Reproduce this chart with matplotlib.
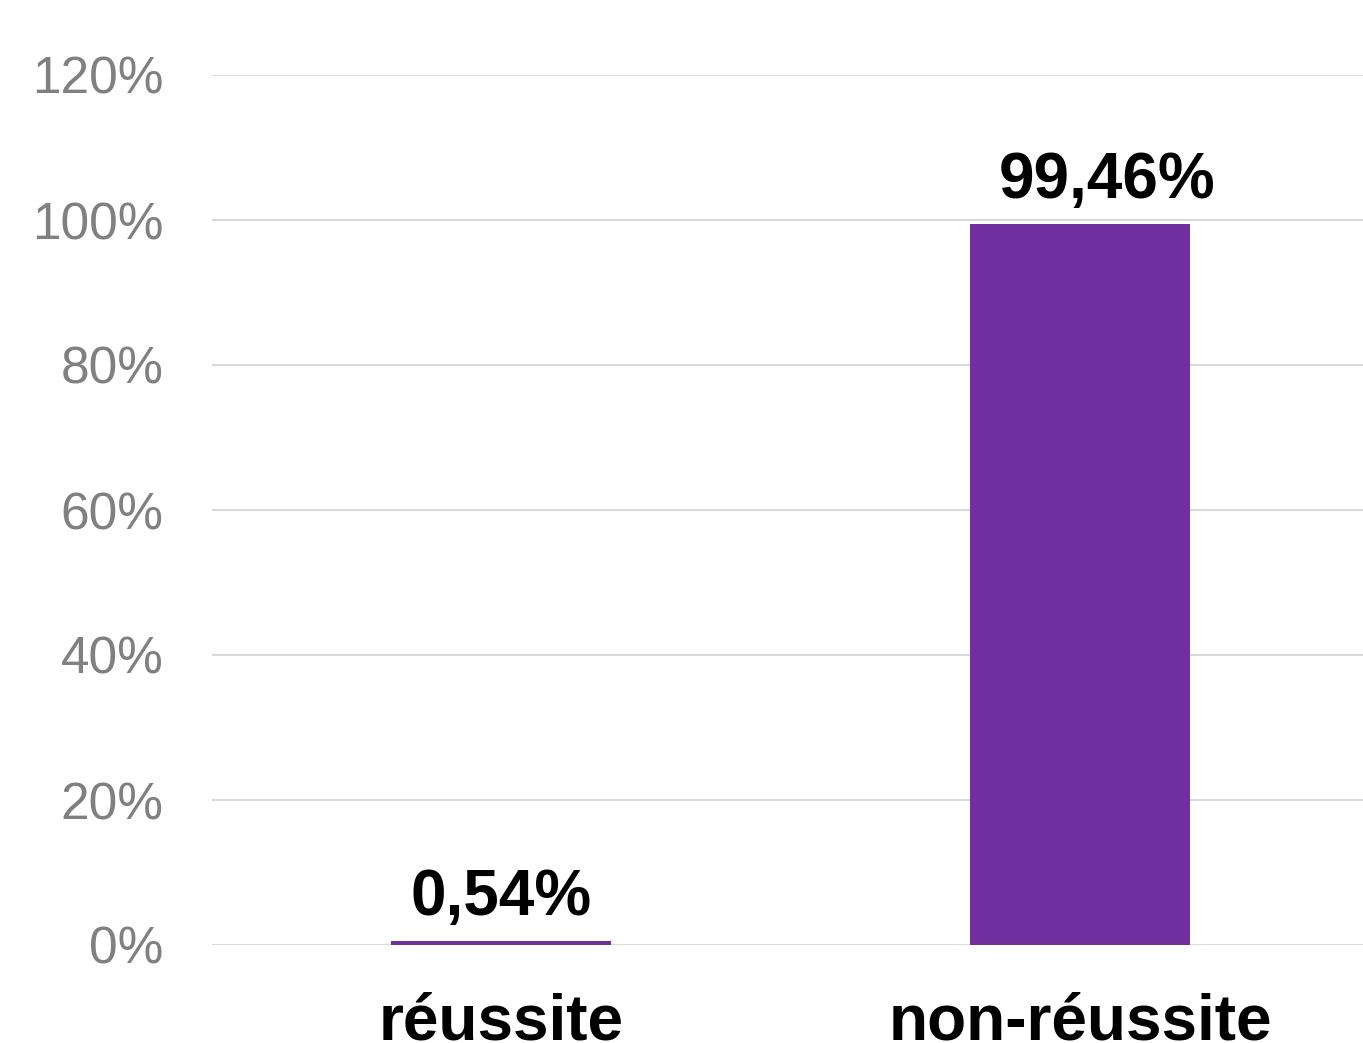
import matplotlib
matplotlib.use("Agg")
import matplotlib.pyplot as plt
from matplotlib.ticker import FuncFormatter, MultipleLocator

categories = ["réussite", "non-réussite"]
values = [0.54, 99.46]
value_labels = ["0,54%", "99,46%"]

plt.rcParams['font.family'] = ['Liberation Sans', 'DejaVu Sans']

fig = plt.figure(figsize=(13.63, 10.43), dpi=100)
ax = fig.add_axes([212/1363, (1043-945)/1043, 1 - 212/1363, (945-75)/1043])

x = list(range(len(categories)))
bars = ax.bar(x, values, width=0.38, color="#7030A0", zorder=3)

ax.set_ylim(0, 120)
ax.set_xlim(-0.499, 1.489)
ax.yaxis.set_major_locator(MultipleLocator(20))
ax.yaxis.set_major_formatter(FuncFormatter(lambda v, p: f"{int(round(v))}%"))
ax.grid(axis="y", color="#d9d9d9", linewidth=1.5, zorder=0)
ax.set_axisbelow(True)
for s in ax.spines.values():
    s.set_visible(False)

ax.set_xticks(x)
ax.set_xticklabels(categories, fontsize=46, fontweight="bold", color="black")
ax.tick_params(axis="x", length=0, pad=34)
ax.tick_params(axis="y", length=0, pad=35, labelsize=37, labelcolor="#808080")

label_dx = [0, 19.5]  # horizontal offsets of value labels, in points
for xi, v, lab, dx in zip(x, values, value_labels, label_dx):
    ax.annotate(lab, (xi, v), xytext=(dx, 19), textcoords="offset points",
                ha="center", va="baseline", fontsize=46, fontweight="bold",
                color="black")

fig.savefig("out.png", dpi=100)
